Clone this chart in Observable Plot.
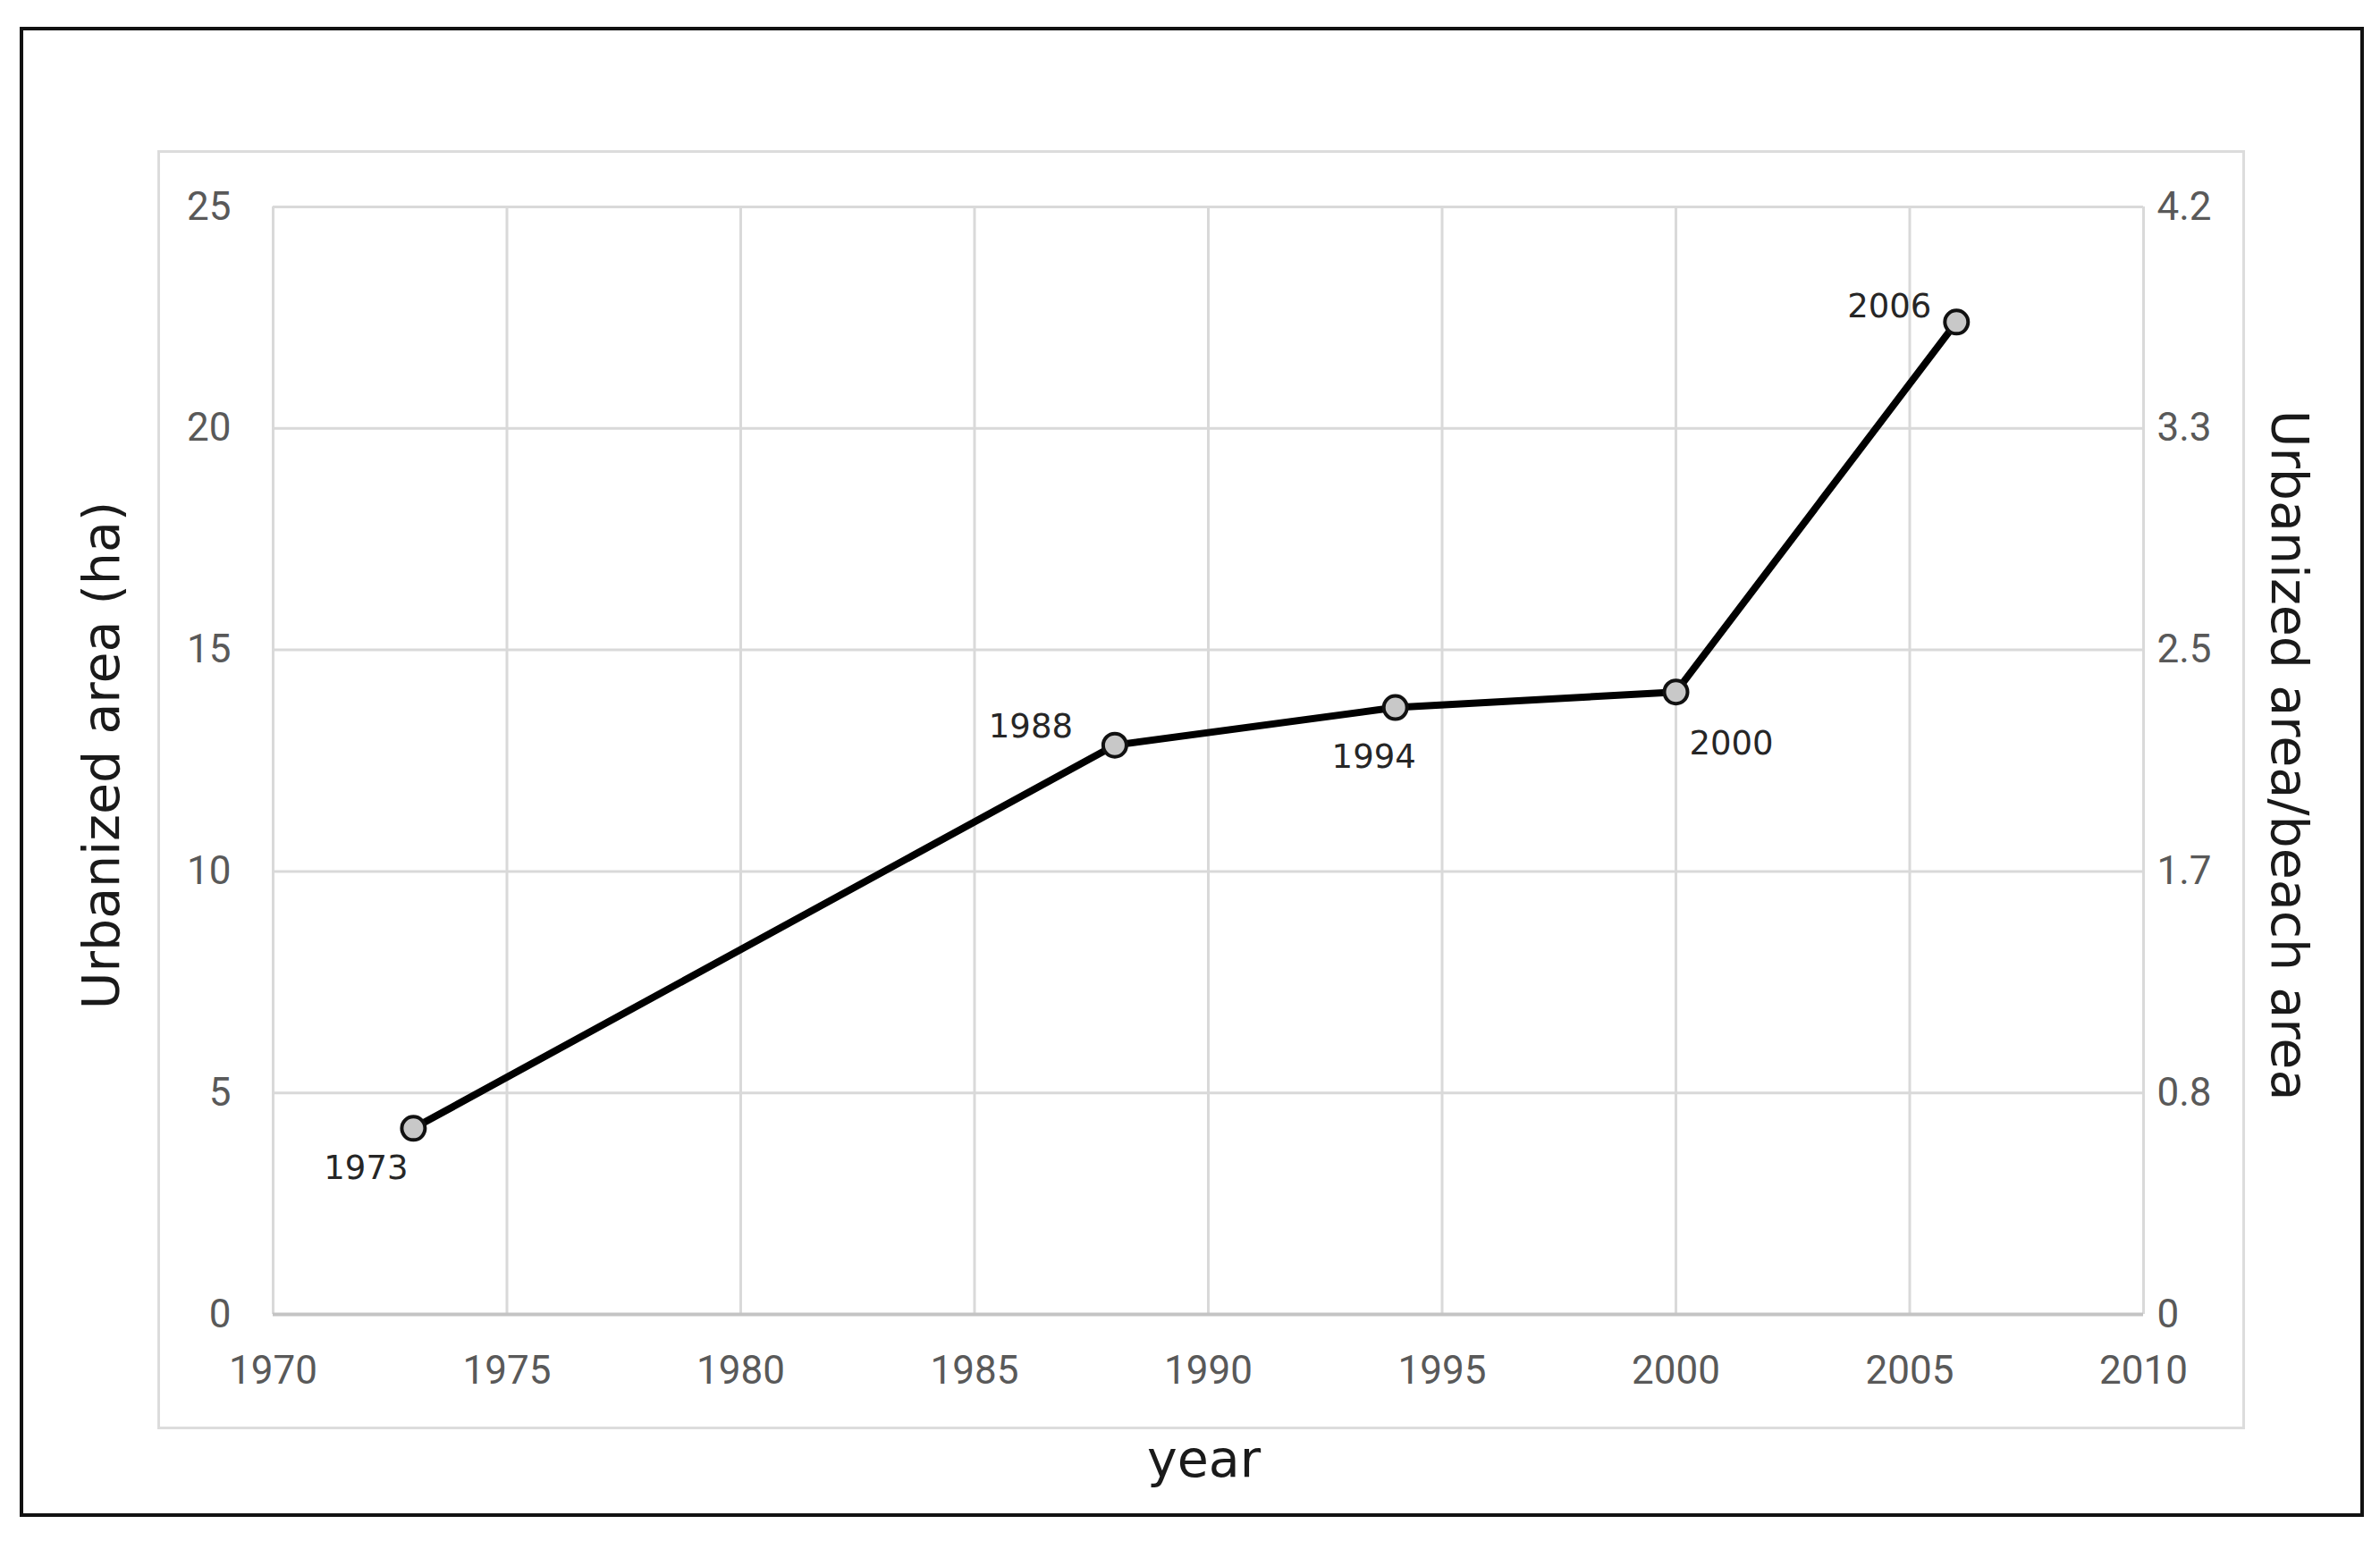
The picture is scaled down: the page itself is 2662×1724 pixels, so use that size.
<!DOCTYPE html>
<html>
<head>
<meta charset="utf-8">
<script src="https://cdn.jsdelivr.net/npm/d3@7"></script>
<script src="https://cdn.jsdelivr.net/npm/@observablehq/plot@0.6"></script>
<style>
  html, body { margin: 0; padding: 0; background: #fff; }
  #wrap { position: relative; width: 2662px; height: 1724px; overflow: hidden; }
  #chart { position: absolute; left: 0; top: 0; }
  .box { position: absolute; box-sizing: border-box; pointer-events: none; }
  #outer { left: 22px; top: 30px; width: 2622px; height: 1667px; border: 4px solid #111; }
  #inner { left: 176px; top: 168px; width: 2335px; height: 1431px; border: 3px solid #dcdcdc; }
</style>
</head>
<body>
<div id="wrap">
  <div id="chart"></div>
  <div id="outer" class="box"></div>
  <div id="inner" class="box"></div>
</div>
<script>
// ---- data ----
const years = [1973, 1988, 1994, 2000, 2006];
const urbanizedArea = [4.2, 12.85, 13.7, 14.05, 22.4];
const pointLabels = ["1973", "1988", "1994", "2000", "2006"];
const xTicks = [1970, 1975, 1980, 1985, 1990, 1995, 2000, 2005, 2010];
const yTicksLeft = [0, 5, 10, 15, 20, 25];
const yTickLabelsRight = ["0", "0.8", "1.7", "2.5", "3.3", "4.2"];
const xTitle = "year";
const yTitleLeft = "Urbanized area (ha)";
const yTitleRight = "Urbanized area/beach area";

// ---- build ----
const data = years.map((yr, i) => ({year: yr, area: urbanizedArea[i], label: pointLabels[i]}));

// label placement relative to each point (screen px)
const labelOffsets = {
  "1973": [-53, 45],
  "1988": [-94, -20],
  "1994": [-24, 56],
  "2000": [62, 58],
  "2006": [-75, -17]
};

const tickFont = "Roboto, 'Open Sans', sans-serif";
const titleFont = "'DejaVu Sans', Verdana, sans-serif";
const gridColor = "#d9d9d9";

const labelMarks = pointLabels.map(lbl => Plot.text(data.filter(d => d.label === lbl), {
  x: "year", y: "area", text: "label",
  dx: labelOffsets[lbl][0], dy: labelOffsets[lbl][1],
  fontFamily: titleFont, fontSize: 37, fill: "#262626"
}));

const chart = Plot.plot({
  width: 2662,
  height: 1724,
  marginLeft: 305,
  marginRight: 265,
  marginTop: 231,
  marginBottom: 254,
  style: {background: "transparent", fontFamily: tickFont, fontSize: "44px", color: "#595959"},
  x: {domain: [1970, 2010], axis: null},
  y: {domain: [0, 25], axis: null},
  marks: [
    Plot.gridX(xTicks, {stroke: gridColor, strokeOpacity: 1, strokeWidth: 3}),
    Plot.gridY(yTicksLeft, {stroke: gridColor, strokeOpacity: 1, strokeWidth: 3}),
    Plot.ruleY([0], {stroke: "#c4c4c4", strokeWidth: 4}),
    Plot.axisX(xTicks, {anchor: "bottom", tickSize: 0, tickPadding: 46, tickFormat: d => String(d),
      fontSize: 44, fill: "#595959", label: null}),
    Plot.axisY(yTicksLeft, {anchor: "left", tickSize: 0, tickPadding: 47, tickFormat: d => String(d),
      fontSize: 44, fill: "#595959", label: null}),
    Plot.axisY(yTicksLeft, {anchor: "right", tickSize: 0, tickPadding: 15,
      tickFormat: (d) => yTickLabelsRight[yTicksLeft.indexOf(d)],
      fontSize: 44, fill: "#595959", label: null}),
    Plot.line(data, {x: "year", y: "area", stroke: "#000", strokeWidth: 8}),
    Plot.dot(data, {x: "year", y: "area", r: 13, fill: "#c8c8c8", stroke: "#111", strokeWidth: 4}),
    ...labelMarks,
    Plot.text([yTitleLeft], {frameAnchor: "left", textAnchor: "middle", lineAnchor: "middle",
      dx: -191, dy: -6, rotate: -90, fontFamily: titleFont, fontSize: 57, fill: "#1a1a1a"}),
    Plot.text([yTitleRight], {frameAnchor: "right", textAnchor: "middle", lineAnchor: "middle",
      dx: 162, dy: -6, rotate: 90, fontFamily: titleFont, fontSize: 57, fill: "#1a1a1a"}),
    Plot.text([xTitle], {frameAnchor: "bottom", textAnchor: "middle", lineAnchor: "middle",
      dx: -5, dy: 163, fontFamily: titleFont, fontSize: 57, fill: "#1a1a1a"})
  ]
});

document.getElementById("chart").appendChild(chart);
</script>
</body>
</html>
